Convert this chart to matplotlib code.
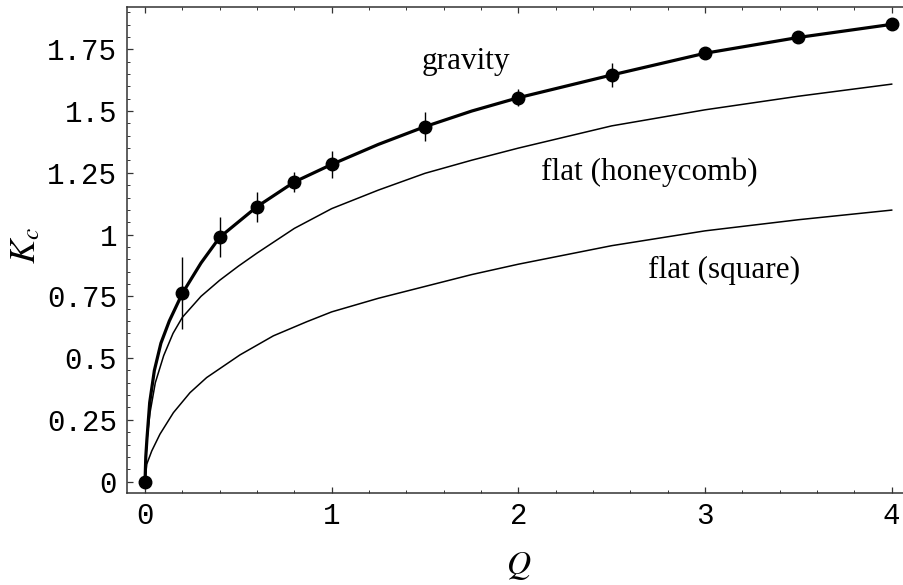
import matplotlib
matplotlib.use("Agg")
from matplotlib import pyplot as plt
from matplotlib.ticker import MultipleLocator, FixedLocator, FixedFormatter

# measured critical coupling (gravity)
q_data = [0, 0.2, 0.4, 0.6, 0.8, 1.0, 1.5, 2.0, 2.5, 3.0, 3.5, 4.0]
k_data = [0, 0.762, 0.989, 1.113, 1.213, 1.284, 1.437, 1.554, 1.646, 1.734, 1.798, 1.851]
k_err = [0, 0.146, 0.081, 0.061, 0.041, 0.055, 0.058, 0.035, 0.048, 0.02, 0.015, 0.015]

# gravity curve
grav_q = [0, 0.004, 0.01, 0.025, 0.05, 0.085, 0.13, 0.2, 0.3, 0.4, 0.6, 0.8, 1.0,
          1.25, 1.5, 1.75, 2.0, 2.5, 3.0, 3.5, 4.0]
grav_k = [0, 0.1, 0.17, 0.32, 0.45, 0.56, 0.65, 0.762, 0.885, 0.989, 1.113, 1.213, 1.284,
          1.365, 1.437, 1.5, 1.554, 1.646, 1.734, 1.798, 1.851]

# flat honeycomb lattice
hc_q = [0, 0.004, 0.012, 0.027, 0.055, 0.1, 0.15, 0.2, 0.3, 0.4, 0.5, 0.6, 0.8, 1.0,
        1.25, 1.5, 1.75, 2.0, 2.5, 3.0, 3.5, 4.0]
hc_k = [0, 0.09, 0.18, 0.28, 0.40, 0.51, 0.6, 0.665, 0.75, 0.815, 0.872, 0.925, 1.025, 1.105,
        1.18, 1.248, 1.301, 1.35, 1.44, 1.505, 1.56, 1.609]

# flat square lattice
sq_q = [0, 0.009, 0.036, 0.08, 0.152, 0.241, 0.33, 0.509, 0.6875, 0.866, 1.0,
        1.25, 1.5, 1.75, 2.0, 2.5, 3.0, 3.5, 4.0]
sq_k = [0, 0.07, 0.124, 0.192, 0.279, 0.36, 0.421, 0.513, 0.59, 0.647, 0.687,
        0.742, 0.79, 0.838, 0.88, 0.955, 1.015, 1.06, 1.099]

y_ticks = [0, 0.25, 0.5, 0.75, 1, 1.25, 1.5, 1.75]
y_labels = ["0", "0.25", "0.5", "0.75", "1", "1.25", "1.5", "1.75"]
x_ticks = [0, 1, 2, 3, 4]
x_labels = ["0", "1", "2", "3", "4"]

plt.rcParams["mathtext.fontset"] = "stix"

fig = plt.figure(figsize=(9.04, 5.85), dpi=100)
ax = fig.add_axes([0.1403, 0.1578, 0.8597, 0.8297])

ax.plot(grav_q, grav_k, color="black", lw=2.3, solid_capstyle="round", solid_joinstyle="round")
ax.plot(hc_q, hc_k, color="black", lw=1.1, solid_joinstyle="round")
ax.plot(sq_q, sq_k, color="black", lw=1.1, solid_joinstyle="round")
ax.errorbar(q_data, k_data, yerr=k_err, fmt="o", color="black", ms=9,
            elinewidth=1.0, capsize=0, zorder=5)

serif = ["Liberation Serif", "DejaVu Serif"]
ax.text(1.72, 1.70, "gravity", fontsize=22.5, family=serif, ha="center", va="center")
ax.text(2.70, 1.254, "flat (honeycomb)", fontsize=22.5, family=serif, ha="center", va="center")
ax.text(3.10, 0.856, "flat (square)", fontsize=22.5, family=serif, ha="center", va="center")

ax.set_xlim(-0.0975, 4.066)
ax.set_ylim(-0.045, 1.92)

ax.xaxis.set_major_locator(FixedLocator(x_ticks))
ax.xaxis.set_major_formatter(FixedFormatter(x_labels))
ax.xaxis.set_minor_locator(MultipleLocator(0.2))
ax.yaxis.set_major_locator(FixedLocator(y_ticks))
ax.yaxis.set_major_formatter(FixedFormatter(y_labels))
ax.yaxis.set_minor_locator(MultipleLocator(0.05))

ax.spines["right"].set_visible(False)
for s in ["left", "top", "bottom"]:
    ax.spines[s].set_linewidth(1.1)
    ax.spines[s].set_color("#333333")

ax.tick_params(which="both", direction="in", top=True, right=False, color="#333333")
ax.tick_params(which="major", length=4.5, width=0.9, pad=7)
ax.tick_params(which="minor", length=2.4, width=0.7)
for lab in ax.get_xticklabels() + ax.get_yticklabels():
    lab.set_family(["Liberation Mono", "DejaVu Sans Mono"])
    lab.set_fontsize(21)

fig.text(0.574, 0.034, r"$Q$", fontsize=24, ha="center", va="center")
fig.text(0.028, 0.581, r"$K_c$", fontsize=26, ha="center", va="center", rotation=90)

fig.savefig("out.png", dpi=100)
